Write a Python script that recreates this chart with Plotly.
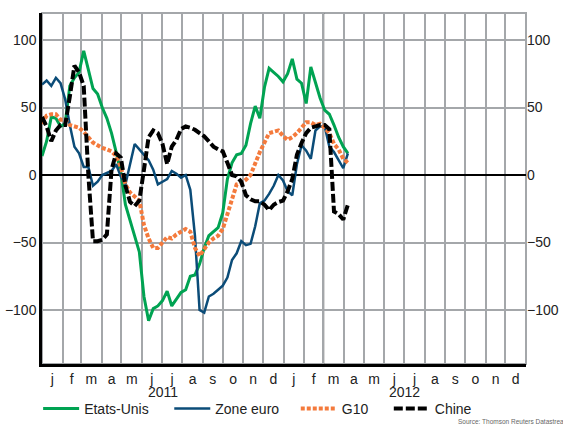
import plotly.graph_objects as go
import pandas as pd

# ---- data (weekly readings, Jan 2011 -> Mar 2012) ----
semaines = pd.date_range("2011-01-01", periods=67, freq="7D")

etats_unis = [14, 25, 43, 42, 36, 38, 66, 72, 76, 92,
              78, 64, 60, 50, 42, 31, 17, 2, -22, -34,
              -45, -57, -90, -108, -99, -97, -93, -86, -97, -92,
              -87, -85, -75, -74, -66, -54, -45, -42, -39, -28,
              -3, 9, 15, 16, 22, 38, 51, 42, 65, 79,
              76, 73, 69, 75, 86, 71, 68, 53, 80, 68,
              57, 48, 45, 37, 28, 21, 16]

zone_euro = [67, 70, 66, 72, 68, 56, 37, 21, 16, 6,
             6, -8, -5, 0, 1.5, 3, 8, -1, -7, 8,
             23, 19, 15, 11, 4, -7, -5, -3, 3, 1,
             -2, 0, -11, -45, -100, -102, -90, -88, -85, -82,
             -76, -63, -58, -49, -52, -51, -38, -21, -19, -14,
             -8, 0, -4, -12, -15, 8, 22, 18, 12, 33,
             36, 36, 21, 17, 11, 5, 16]

g10 = [38, 44, 45, 45, 41, 41, 37, 36, 35, 32,
       28, 24, 22, 20, 19, 17.5, 14, 6, -7, -13,
       -16, -19, -37, -47, -54, -54, -50, -46, -47, -44,
       -42, -40, -42, -54, -60, -55, -50, -47, -45, -40,
       -29, -16, -7, -6, -3.5, 0, 9, 17, 24, 31,
       32, 33, 29, 26, 28, 31, 35, 39, 39, 37,
       38, 35, 31, 23, 19, 12, 9]

chine = [43, 36, 25, 33, 37, 37, 58, 81, 76, 66,
         0, -49, -49, -48, -44, 4, 16, 13, -8, -20,
         -23, -19, 4, 28, 33, 31, 23, 8, 21, 26,
         34, 36, 35, 33.5, 31, 28.6, 25, 21, 19, 17.5,
         9, 0, -1, -5, -15, -18, -19.5, -19.5, -22, -26,
         -22, -20, -19, -12, -3, 15, 23.7, 31, 35, 36,
         37, 37, 34, -27, -29, -33, -22]

mois = list("jfmamjjasond") * 2
annees = ["2011", "2012"]
reperes = ["2011-03-01", "2012-03-01", "2012-09-01"]
y_ticks = [-100, -50, 0, 50, 100]
source = "Source: Thomson Reuters Datastream"

# ---- derived axis positions ----
mois_debut = pd.date_range("2011-01-01", "2012-12-01", freq="MS")
mois_fin = pd.date_range("2011-02-01", "2013-01-01", freq="MS")
mois_milieu = mois_debut + (mois_fin - mois_debut) / 2
annee_debut = pd.to_datetime([a + "-01-01" for a in annees])
annee_milieu = annee_debut + pd.Timedelta(days=182)

GRIS = "#a4a7aa"
FONT = "Liberation Sans, Arial, sans-serif"
NB = "\u00a0"

fig = go.Figure()
fig.add_trace(go.Scatter(x=semaines, y=etats_unis, mode="lines", name="Etats-Unis" + NB * 4,
                         line=dict(color="#00a352", width=3)))
fig.add_trace(go.Scatter(x=semaines, y=zone_euro, mode="lines", name="Zone euro" + NB * 3,
                         line=dict(color="#0b4c78", width=2.5)))
fig.add_trace(go.Scatter(x=semaines, y=g10, mode="lines", name="G10" + NB * 4,
                         line=dict(color="#f47a3c", width=4, dash="4px,2px")))
fig.add_trace(go.Scatter(x=semaines, y=chine, mode="lines", name="Chine",
                         line=dict(color="black", width=4, dash="9px,3px")))
# invisible trace to carry the right-hand axis
fig.add_trace(go.Scatter(x=semaines, y=chine, mode="lines", yaxis="y2",
                         line=dict(width=0), opacity=0, showlegend=False,
                         hoverinfo="skip"))

shapes = [dict(type="rect", xref="paper", yref="paper", x0=0, x1=1, y0=0, y1=1,
               line=dict(color=GRIS, width=2), layer="below")]
for d in reperes:
    shapes.append(dict(type="line", xref="x", yref="paper", x0=d, x1=d, y0=0, y1=1,
                       line=dict(color="black", width=1.5), layer="between"))

annotations = [dict(x=m, y=-0.08, xref="x", yref="paper", text=a, showarrow=False,
                    yanchor="middle", font=dict(size=14, family=FONT, color="#222"))
               for m, a in zip(annee_milieu, annees)]
annotations.append(dict(x=0.855, y=-0.165, xref="paper", yref="paper", text=source,
                        showarrow=False, xanchor="left", yanchor="middle",
                        font=dict(size=6.5, family=FONT, color="#666")))

fig.update_layout(
    width=563, height=425,
    margin=dict(l=42, r=37, t=13, b=61, autoexpand=False),
    paper_bgcolor="white", plot_bgcolor="white",
    font=dict(family=FONT, size=14, color="#222"),
    showlegend=True,
    legend=dict(orientation="h", x=-0.008, y=-0.128, xanchor="left", yanchor="middle",
                font=dict(size=14, family=FONT), itemwidth=36, bgcolor="rgba(0,0,0,0)"),
    xaxis=dict(type="date", range=["2011-01-01", "2013-01-01"], automargin=False,
               tickmode="array", tickvals=mois_milieu, ticktext=mois, ticks="",
               showgrid=False, zeroline=False,
               minor=dict(tickmode="array", tickvals=mois_debut, showgrid=True,
                          gridcolor=GRIS, gridwidth=2, ticks=""),
               showline=True, linecolor="black", linewidth=2.5,
               tickfont=dict(size=14)),
    yaxis=dict(range=[-140, 120], tickmode="array", tickvals=y_ticks, ticks="",
               automargin=False,
               showgrid=True, gridcolor=GRIS, gridwidth=2,
               zeroline=True, zerolinecolor="black", zerolinewidth=1.5,
               showline=True, linecolor="black", linewidth=2.5,
               tickfont=dict(size=14)),
    yaxis2=dict(overlaying="y", side="right", range=[-140, 120], tickmode="array",
                automargin=False,
                tickvals=y_ticks, ticks="", showgrid=False, zeroline=False,
                showline=False, tickfont=dict(size=14)),
    shapes=shapes,
    annotations=annotations,
)

fig.write_html("out.html", config={"displayModeBar": False},
               post_script="document.body.style.margin='0';document.body.style.overflow='hidden';")
